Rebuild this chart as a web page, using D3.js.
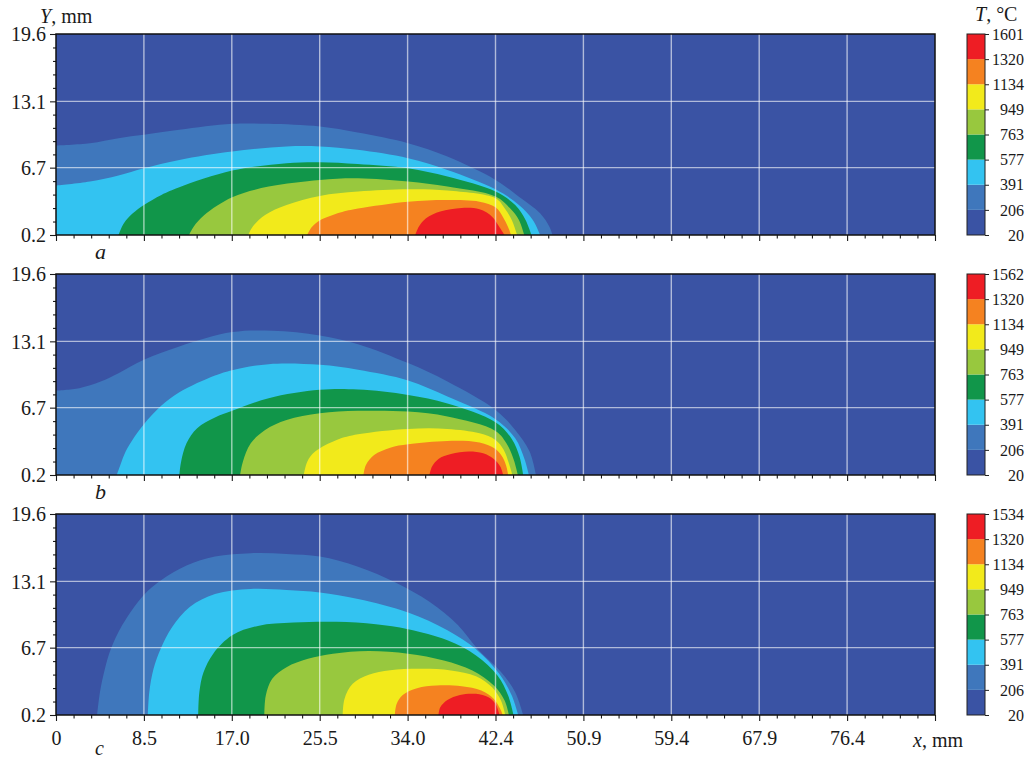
<!DOCTYPE html>
<html>
<head>
<meta charset="utf-8">
<title>Temperature fields</title>
<script src="https://cdn.jsdelivr.net/npm/d3@7"></script>
<style>
  body { margin: 0; background: #fff; }
  text { font-family: "Liberation Serif", "Times New Roman", serif; fill: #1a1a1a; }
</style>
</head>
<body>
<svg id="chart" width="1027" height="761"></svg>
<script>
// axis ticks
const xTickLabels = [0, 8.5, 17.0, 25.5, 34.0, 42.4, 50.9, 59.4, 67.9, 76.4];
const xStep = 8.48;
const xMax = 84.8;
const yTicks = [0.2, 6.7, 13.1, 19.6];

// colour bands (20 .. max)
const bandColours = ["#3a53a4", "#3f77bc", "#33c3f1", "#11964a", "#98c83e", "#f2ea1b", "#f58220", "#ee1d24"];
const levelsA = [20, 206, 391, 577, 763, 949, 1134, 1320, 1601];
const levelsB = [20, 206, 391, 577, 763, 949, 1134, 1320, 1562];
const levelsC = [20, 206, 391, 577, 763, 949, 1134, 1320, 1534];

// isotherm boundaries, [x mm, Y mm]
// panel a
const a206 = [[0,8.84],[3.28,9.06],[6.03,9.55],[8.48,9.87],[11.9,10.35],[17.0,10.93],[20.5,10.93],[25.45,10.67],[29.1,10.09],[33.97,9.06],[37.76,7.77],[42.4,5.52],[44.66,3.9],[46.7,2.3],[47.6,1.0],[47.9,0.2]];
const a391 = [[0,4.97],[3.28,5.36],[6.03,5.94],[8.48,6.65],[11.9,7.45],[17.0,8.26],[22.24,8.74],[25.45,8.74],[29.1,8.42],[33.97,7.61],[37.76,6.48],[42.4,4.61],[44.66,3.1],[46.0,1.65],[46.7,0.2]];
const a577 = [[6.03,0.2],[6.55,1.33],[7.41,2.29],[8.48,3.1],[10.17,4.07],[11.9,4.81],[17.0,6.42],[22.24,7.13],[25.45,7.23],[29.1,7.06],[33.97,6.65],[37.76,5.84],[42.4,4.39],[44.3,3.1],[45.3,1.65],[45.86,0.2]];
const a763 = [[12.83,0.2],[13.28,1.0],[14.31,2.13],[17.0,3.84],[20.52,4.87],[25.45,5.52],[29.14,5.68],[33.97,5.36],[37.76,4.87],[42.4,3.91],[43.8,2.78],[44.66,1.65],[45.17,0.2]];
const a949 = [[18.55,0.2],[18.97,1.0],[20.17,2.13],[22.24,3.1],[25.45,3.97],[29.14,4.39],[33.97,4.61],[37.76,4.49],[42.4,3.74],[43.28,2.78],[43.97,1.65],[44.48,0.2]];
const a1134 = [[24.24,0.2],[24.66,0.94],[25.45,1.59],[27.41,2.36],[29.14,2.75],[33.97,3.42],[37.76,3.58],[40.86,3.42],[42.4,2.87],[43.1,1.97],[43.6,1.0],[43.9,0.2]];
const a1320 = [[34.66,0.2],[35.0,1.0],[35.7,1.81],[37.07,2.46],[39.14,2.81],[40.86,2.68],[42.07,1.97],[42.76,1.0],[43.28,0.2]];
// panel b
const b206 = [[0,8.35],[2.24,8.58],[4.31,9.22],[6.03,10.03],[8.48,11.32],[11.9,12.61],[17.0,13.99],[20.86,14.12],[25.45,13.67],[29.14,12.83],[33.97,11.0],[37.76,9.22],[42.4,6.48],[44.3,4.55],[45.69,2.46],[46.3,0.2]];
const b391 = [[5.86,0.2],[6.21,1.17],[6.72,2.46],[7.59,3.91],[8.48,5.1],[10.17,6.9],[11.9,8.19],[15.34,9.8],[17.0,10.32],[20.52,10.9],[25.45,10.83],[29.14,10.35],[33.97,9.32],[37.76,7.77],[42.4,5.58],[44.3,3.74],[45.17,1.81],[45.62,0.2]];
const b577 = [[11.9,0.2],[12.07,1.49],[12.59,3.26],[13.62,4.71],[15.34,5.74],[17.0,6.39],[20.52,7.61],[25.45,8.42],[29.14,8.45],[33.97,7.93],[37.76,7.1],[42.4,5.29],[43.97,3.68],[44.72,1.97],[45.07,0.2]];
const b763 = [[17.76,0.2],[18.03,1.49],[18.79,3.26],[20.17,4.55],[22.24,5.52],[25.45,6.16],[29.14,6.39],[33.97,6.32],[37.76,5.84],[42.4,4.45],[43.55,3.1],[44.17,1.65],[44.55,0.2]];
const b949 = [[23.9,0.2],[24.24,1.49],[25.0,2.46],[27.07,3.58],[29.14,4.13],[33.97,4.65],[37.76,4.65],[40.86,4.23],[42.4,3.58],[43.2,2.62],[43.69,1.33],[44.03,0.2]];
const b1134 = [[29.66,0.2],[29.9,1.17],[30.69,2.13],[32.24,2.84],[33.97,3.16],[37.76,3.49],[40.86,3.33],[42.4,2.71],[43.1,1.88],[43.45,1.01],[43.62,0.2]];
const b1320 = [[36.03,0.2],[36.28,1.01],[36.9,1.75],[38.1,2.23],[39.83,2.46],[41.21,2.29],[42.24,1.75],[42.86,1.01],[43.14,0.2]];
// panel c
const c206 = [[3.97,0.2],[4.24,2.4],[4.72,4.66],[5.28,6.54],[6.38,8.86],[8.45,11.77],[10.17,13.23],[12.59,14.62],[15.34,15.49],[18.79,15.82],[22.24,15.75],[25.45,15.49],[29.14,14.52],[32.76,13.0],[36.03,11.13],[38.79,8.86],[40.69,6.54],[42.93,4.34],[44.3,2.4],[45.07,0.2]];
const c391 = [[8.86,0.2],[9.0,2.4],[9.41,4.66],[10.1,6.6],[11.21,8.7],[12.93,10.64],[15.34,11.87],[18.79,12.36],[22.24,12.26],[25.45,12.03],[29.14,11.39],[33.97,10.09],[37.76,8.38],[40.52,6.54],[42.76,4.18],[43.97,2.08],[44.59,0.2]];
const c577 = [[13.72,0.2],[13.83,2.4],[14.24,4.34],[15.17,6.12],[17.0,7.89],[19.48,8.8],[22.93,9.12],[27.07,9.19],[30.86,8.96],[33.97,8.48],[37.76,7.41],[40.52,5.95],[42.59,4.01],[43.62,2.08],[44.14,0.2]];
const c763 = [[20.1,0.2],[20.24,2.08],[20.86,3.69],[22.24,4.82],[24.31,5.63],[26.72,6.12],[30.17,6.38],[33.97,6.12],[37.41,5.47],[40.17,4.5],[42.24,3.05],[43.28,1.59],[43.69,0.2]];
const c949 = [[27.66,0.2],[27.83,1.75],[28.62,3.21],[30.17,4.08],[32.24,4.53],[35.34,4.66],[38.1,4.5],[40.52,3.95],[42.07,2.88],[42.93,1.59],[43.34,0.2]];
const c1134 = [[32.69,0.2],[32.86,1.27],[33.45,2.14],[34.83,2.79],[36.72,3.05],[39.14,2.98],[41.03,2.56],[42.24,1.75],[42.86,0.78],[43.1,0.2]];
const c1320 = [[36.9,0.2],[37.07,0.94],[37.76,1.65],[38.97,2.14],[40.52,2.24],[41.72,1.91],[42.41,1.27],[42.79,0.2]];

const panels = [
  { id: "a", top: 34, levels: levelsA, contours: [a206, a391, a577, a763, a949, a1134, a1320] },
  { id: "b", top: 274, levels: levelsB, contours: [b206, b391, b577, b763, b949, b1134, b1320] },
  { id: "c", top: 514, levels: levelsC, contours: [c206, c391, c577, c763, c949, c1134, c1320] }
];

const plotLeft = 56, plotRight = 935, plotHeight = 201;
const barLeft = 967, barWidth = 18;

const svg = d3.select("#chart");

const x = d3.scaleLinear().domain([0, xMax]).range([plotLeft, plotRight]);
const xMajor = d3.range(0, 11).map(i => i * xStep);
const xMinor = d3.range(0, 51).map(i => i * xStep / 5).filter((d, i) => i % 5 != 0);
const yMinor = [];
for (let i = 0; i < yTicks.length - 1; i++) {
  for (let k = 1; k < 5; k++) yMinor.push(yTicks[i] + (yTicks[i + 1] - yTicks[i]) * k / 5);
}

panels.forEach(function(p, pi) {
  const bottom = p.top + plotHeight;
  const y = d3.scaleLinear().domain([0.2, 19.6]).range([bottom, p.top]);
  const g = svg.append("g");

  g.append("clipPath").attr("id", "clip-" + p.id)
    .append("rect")
      .attr("x", plotLeft).attr("y", p.top)
      .attr("width", plotRight - plotLeft).attr("height", plotHeight);

  const field = g.append("g").attr("clip-path", "url(#clip-" + p.id + ")");
  field.append("rect")
    .attr("x", plotLeft).attr("y", p.top)
    .attr("width", plotRight - plotLeft).attr("height", plotHeight)
    .attr("fill", bandColours[0]);

  const line = d3.line()
    .x(d => x(d[0]))
    .y(d => y(d[1]))
    .curve(d3.curveCatmullRom.alpha(0.5));

  field.selectAll("path.iso")
    .data(p.contours)
    .enter().append("path")
      .attr("class", "iso")
      .attr("fill", (d, i) => bandColours[i + 1])
      .attr("d", function(d) {
        let s = line(d);
        if (d[0][0] == 0) s += "L" + x(0) + "," + y(0.2);
        return s + "Z";
      });

  // grid
  field.selectAll("line.gx")
    .data(xMajor.slice(1, 10))
    .enter().append("line")
      .attr("x1", d => x(d)).attr("x2", d => x(d))
      .attr("y1", p.top).attr("y2", bottom)
      .attr("stroke", "#fff").attr("stroke-opacity", 0.6).attr("stroke-width", 1.4);
  field.selectAll("line.gy")
    .data(yTicks.slice(1, 3))
    .enter().append("line")
      .attr("x1", plotLeft).attr("x2", plotRight)
      .attr("y1", d => y(d)).attr("y2", d => y(d))
      .attr("stroke", "#fff").attr("stroke-opacity", 0.6).attr("stroke-width", 1.4);

  // axes
  const yAxis = g.append("g")
    .attr("transform", "translate(" + plotLeft + ",0)")
    .call(d3.axisLeft(y).tickValues(yTicks).tickSize(6).tickPadding(4).tickFormat(d3.format(".1f")));
  g.append("g")
    .attr("transform", "translate(" + plotLeft + ",0)")
    .call(d3.axisLeft(y).tickValues(yMinor).tickSize(3).tickFormat(""));

  const xAxis = g.append("g")
    .attr("transform", "translate(0," + bottom + ")")
    .call(d3.axisBottom(x).tickValues(xMajor).tickSize(6).tickPadding(10)
      .tickFormat((d, i) => (pi == 2 && i < xTickLabels.length) ? (i == 0 ? "0" : xTickLabels[i].toFixed(1)) : ""));
  g.append("g")
    .attr("transform", "translate(0," + bottom + ")")
    .call(d3.axisBottom(x).tickValues(xMinor).tickSize(3.5).tickFormat(""));

  g.selectAll(".domain").remove();
  g.selectAll(".tick line").attr("stroke", "#1a1a1a").attr("stroke-width", 1.1);
  yAxis.selectAll("text").attr("font-size", 20).attr("font-family", "Liberation Serif").attr("dy", "0.34em");
  xAxis.selectAll("text").attr("font-size", 20).attr("font-family", "Liberation Serif");

  g.append("rect")
    .attr("x", plotLeft).attr("y", p.top)
    .attr("width", plotRight - plotLeft).attr("height", plotHeight)
    .attr("fill", "none").attr("stroke", "#111").attr("stroke-width", 1.5);

  // panel letter (below the tick labels on the last panel)
  g.append("text")
    .attr("x", 95).attr("y", bottom + (pi == 2 ? 40 : 24))
    .attr("font-size", pi == 2 ? 20 : 22).attr("font-style", "italic")
    .text(p.id);

  // colour bar
  const yb = d3.scaleLinear().domain([0, bandColours.length]).range([bottom, p.top]);
  g.selectAll("rect.band")
    .data(bandColours)
    .enter().append("rect")
      .attr("x", barLeft).attr("width", barWidth)
      .attr("y", (d, i) => yb(i + 1)).attr("height", (d, i) => yb(i) - yb(i + 1))
      .attr("fill", d => d);
  g.append("rect")
    .attr("x", barLeft).attr("y", p.top)
    .attr("width", barWidth).attr("height", plotHeight)
    .attr("fill", "none").attr("stroke", "#222").attr("stroke-width", 1);
  const barAxis = g.append("g")
    .attr("transform", "translate(" + (barLeft + barWidth) + ",0)")
    .call(d3.axisRight(yb).tickValues(d3.range(0, p.levels.length)).tickSize(4)
      .tickFormat(i => p.levels[i]));
  barAxis.select(".domain").remove();
  barAxis.selectAll(".tick line").attr("stroke", "#222");
  barAxis.selectAll("text")
    .attr("text-anchor", "end").attr("x", 1024 - barLeft - barWidth)
    .attr("font-size", 16).attr("font-family", "Liberation Serif");
});

// axis titles
const yTitle = svg.append("text").attr("x", 40).attr("y", 23).attr("font-size", 20);
yTitle.append("tspan").attr("font-style", "italic").text("Y");
yTitle.append("tspan").text(", mm");

const xTitle = svg.append("text").attr("x", 913).attr("y", 747).attr("font-size", 20);
xTitle.append("tspan").attr("font-style", "italic").text("x");
xTitle.append("tspan").text(", mm");

const tTitle = svg.append("text").attr("x", 975).attr("y", 21).attr("font-size", 20);
tTitle.append("tspan").attr("font-style", "italic").text("T");
tTitle.append("tspan").text(", \u00b0C");
</script>
</body>
</html>
